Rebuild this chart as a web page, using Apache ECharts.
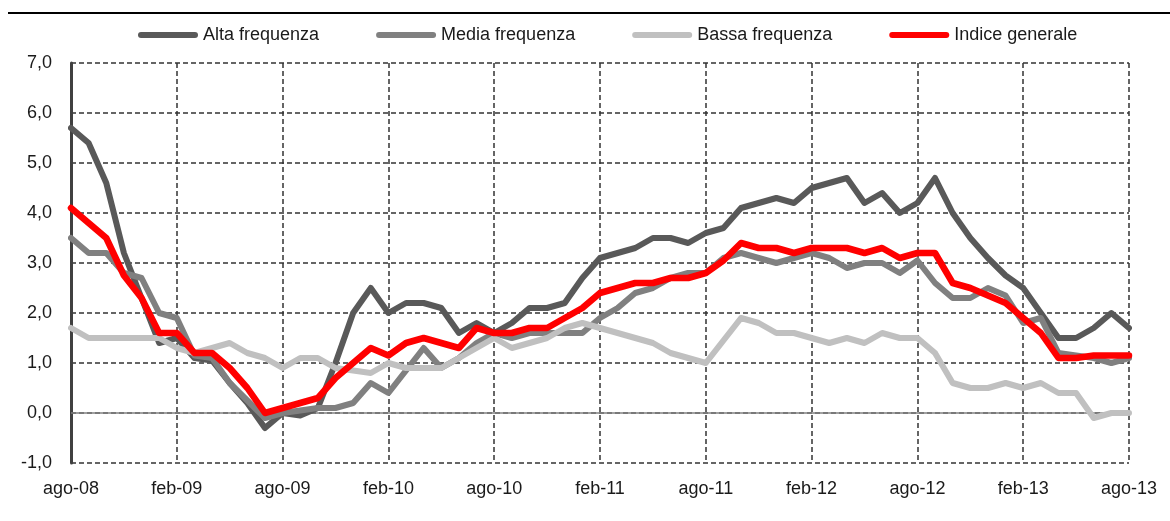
<!DOCTYPE html>
<html><head><meta charset="utf-8">
<script src="https://cdn.jsdelivr.net/npm/echarts@6/dist/echarts.min.js"></script>
<style>html,body{margin:0;padding:0;background:#fff}#c{width:1170px;height:521px}</style>
</head><body><div id="c"></div>
<script>
const categories = ["ago-08","set-08","ott-08","nov-08","dic-08","gen-09","feb-09","mar-09","apr-09","mag-09","giu-09","lug-09",
"ago-09","set-09","ott-09","nov-09","dic-09","gen-10","feb-10","mar-10","apr-10","mag-10","giu-10","lug-10",
"ago-10","set-10","ott-10","nov-10","dic-10","gen-11","feb-11","mar-11","apr-11","mag-11","giu-11","lug-11",
"ago-11","set-11","ott-11","nov-11","dic-11","gen-12","feb-12","mar-12","apr-12","mag-12","giu-12","lug-12",
"ago-12","set-12","ott-12","nov-12","dic-12","gen-13","feb-13","mar-13","apr-13","mag-13","giu-13","lug-13","ago-13"];
const alta = [5.7,5.4,4.6,3.2,2.3,1.4,1.5,1.1,1.05,0.6,0.2,-0.3,
0.0,-0.05,0.1,1.0,2.0,2.5,2.0,2.2,2.2,2.1,1.6,1.8,
1.6,1.8,2.1,2.1,2.2,2.7,3.1,3.2,3.3,3.5,3.5,3.4,
3.6,3.7,4.1,4.2,4.3,4.2,4.5,4.6,4.7,4.2,4.4,4.0,
4.2,4.7,4.0,3.5,3.1,2.75,2.5,2.0,1.5,1.5,1.7,2.0,1.7];
const media = [3.5,3.2,3.2,2.8,2.7,2.0,1.9,1.15,1.1,0.6,0.25,-0.1,
0.0,0.05,0.1,0.1,0.2,0.6,0.4,0.85,1.3,0.9,1.1,1.4,
1.6,1.5,1.6,1.6,1.6,1.6,1.9,2.1,2.4,2.5,2.7,2.8,
2.8,3.1,3.2,3.1,3.0,3.1,3.2,3.1,2.9,3.0,3.0,2.8,
3.05,2.6,2.3,2.3,2.5,2.35,1.8,1.9,1.2,1.15,1.1,1.0,1.1];
const bassa = [1.7,1.5,1.5,1.5,1.5,1.5,1.3,1.2,1.3,1.4,1.2,1.1,
0.9,1.1,1.1,0.9,0.85,0.8,1.0,0.9,0.9,0.9,1.1,1.3,
1.5,1.3,1.4,1.5,1.7,1.8,1.7,1.6,1.5,1.4,1.2,1.1,
1.0,1.45,1.9,1.8,1.6,1.6,1.5,1.4,1.5,1.4,1.6,1.5,
1.5,1.2,0.6,0.5,0.5,0.6,0.5,0.6,0.4,0.4,-0.1,0.0,0.0];
const indice = [4.1,3.8,3.5,2.75,2.3,1.6,1.6,1.2,1.2,0.9,0.5,0.0,
0.1,0.2,0.3,0.7,1.0,1.3,1.15,1.4,1.5,1.4,1.3,1.7,
1.6,1.6,1.7,1.7,1.9,2.1,2.4,2.5,2.6,2.6,2.7,2.7,
2.8,3.05,3.4,3.3,3.3,3.2,3.3,3.3,3.3,3.2,3.3,3.1,
3.2,3.2,2.6,2.5,2.35,2.2,1.9,1.6,1.1,1.1,1.15,1.15,1.15];
const seriesNames = ["Alta frequenza","Media frequenza","Bassa frequenza","Indice generale"];
const seriesColors = ["#595959","#808080","#c0c0c0","#ff0000"];

const FONT = "'Liberation Sans', Arial, sans-serif";
const capsule = 'path://M3,0 L57,0 A3,3 0 0 1 57,6 L3,6 A3,3 0 0 1 3,0 Z';
const dataSets = [alta, media, bassa, indice];
const series = dataSets.map((d, k) => ({
  name: seriesNames[k], type: 'line', data: d, symbol: 'none', smooth: false,
  lineStyle: { color: seriesColors[k], width: k === 3 ? 6.5 : 6, join: 'round', cap: 'round' },
  itemStyle: { color: seriesColors[k] },
  z: 3 + k, animation: false
}));
series[0].markLine = {
  silent: true, symbol: 'none', label: { show: false },
  lineStyle: { color: '#808080', width: 1.5, type: 'solid' },
  data: [{ yAxis: 0 }], z: 2, animation: false
};

const chart = echarts.init(document.getElementById('c'), null, { renderer: 'canvas' });
chart.setOption({
  animation: false,
  backgroundColor: '#fff',
  textStyle: { fontFamily: FONT },
  graphic: [{ type: 'line', shape: { x1: 8, y1: 13, x2: 1170, y2: 13 }, style: { stroke: '#000', lineWidth: 2 } }],
  legend: {
    left: 133, top: 21, itemWidth: 60, itemHeight: 6, itemGap: 57, icon: capsule,
    textStyle: { fontFamily: FONT, fontSize: 18, color: '#1a1a1a' },
    data: seriesNames
  },
  grid: { left: 71, right: 41, top: 63, bottom: 58, containLabel: false },
  xAxis: {
    type: 'category', data: categories, boundaryGap: false,
    axisLine: { show: false }, axisTick: { show: false },
    axisLabel: { interval: 5, margin: 17, fontFamily: FONT, fontSize: 18, color: '#1a1a1a', showMaxLabel: true },
    splitLine: { show: true, interval: 5, lineStyle: { color: '#333', width: 1.5, type: [5, 3] } }
  },
  yAxis: {
    type: 'value', min: -1, max: 7, interval: 1,
    axisLine: { show: true, lineStyle: { color: '#404040', width: 3 } },
    axisTick: { show: false },
    axisLabel: { margin: 19, fontFamily: FONT, fontSize: 18, color: '#1a1a1a',
      formatter: v => v.toFixed(1).replace('.', ',') },
    splitLine: { show: true, lineStyle: { color: '#333', width: 1.5, type: [5, 3] } }
  },
  series: series
});
</script></body></html>
